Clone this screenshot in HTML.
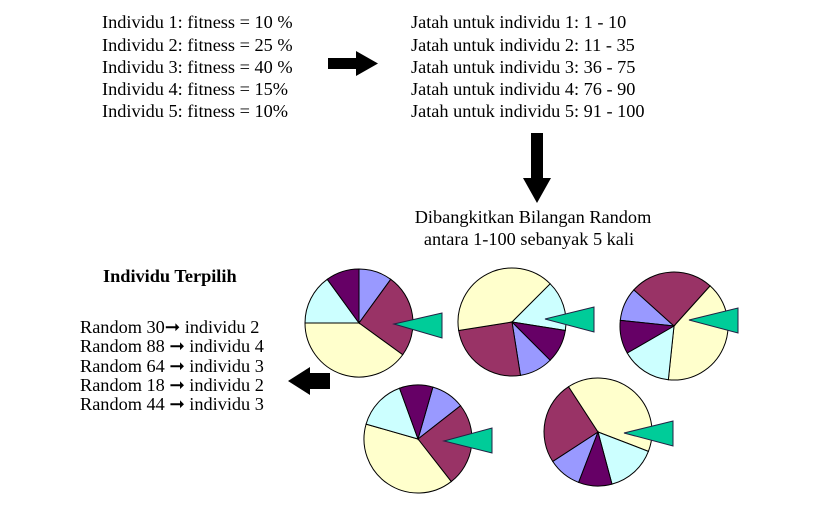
<!DOCTYPE html>
<html><head><meta charset="utf-8"><style>
body{margin:0;background:#fff}
svg text{font-family:"Liberation Serif",serif;font-size:18.3px;fill:#000}
</style></head><body>
<svg id="s" width="819" height="518" viewBox="0 0 819 518">
<g>
<text x="102" y="28">Individu 1: fitness = 10 %</text>
<text x="102" y="51">Individu 2: fitness = 25 %</text>
<text x="102" y="73">Individu 3: fitness = 40 %</text>
<text x="102" y="95">Individu 4: fitness = 15%</text>
<text x="102" y="117">Individu 5: fitness = 10%</text>
</g>
<g>
<text x="411" y="28">Jatah untuk individu 1: 1 - 10</text>
<text x="411" y="51">Jatah untuk individu 2: 11 - 35</text>
<text x="411" y="73">Jatah untuk individu 3: 36 - 75</text>
<text x="411" y="95">Jatah untuk individu 4: 76 - 90</text>
<text x="411" y="117">Jatah untuk individu 5: 91 - 100</text>
</g>
<polygon points="328,58 356,58 356,51 378,63.5 356,76 356,69 328,69" fill="#000"/>
<polygon points="531,133 543,133 543,178 551,178 537,203 523,178 531,178" fill="#000"/>
<polygon points="330,373 310,373 310,367 288,381 310,395 310,389 330,389" fill="#000"/>
<text x="533" y="223" text-anchor="middle">Dibangkitkan Bilangan Random</text>
<text x="529" y="245" text-anchor="middle">antara 1-100 sebanyak 5 kali</text>
<text x="103" y="282" font-weight="bold">Individu Terpilih</text>
<g>
<text x="80" y="333">Random 30➞ individu 2</text>
<text x="80" y="352">Random 88 ➞ individu 4</text>
<text x="80" y="372">Random 64 ➞ individu 3</text>
<text x="80" y="391">Random 18 ➞ individu 2</text>
<text x="80" y="410">Random 44 ➞ individu 3</text>
</g>
<g id="pies"></g>
</svg>
<script>
const fitness=[10,25,40,15,10];
const colors=["#9999ff","#993366","#ffffcc","#ccffff","#660066"];
const startAngles=[0,135,-84,16,201];
const pieCenters=[[359,323],[512,322],[674,326],[418,439],[598,432]];
const pointers=[[394,324,442,313,338],[545,319,594,307,332],[689,320,738,308,333],[444,441,492,428,453],[624,433,673,421,446]];
const R=54, NS="http://www.w3.org/2000/svg", g=document.getElementById('pies');
const total=fitness.reduce((a,b)=>a+b,0);
function pt(cx,cy,a){const r=(a-90)*Math.PI/180;return [cx+R*Math.cos(r),cy+R*Math.sin(r)];}
pieCenters.forEach((c,p)=>{
  const pg=document.createElementNS(NS,'g');
  
  
  let a=startAngles[p];
  fitness.forEach((v,i)=>{
    const sweep=v/total*360, a2=a+sweep;
    const [x1,y1]=pt(c[0],c[1],a),[x2,y2]=pt(c[0],c[1],a2);
    const path=document.createElementNS(NS,'path');
    path.setAttribute('d',`M${c[0]},${c[1]} L${x1},${y1} A${R},${R} 0 ${sweep>180?1:0} 1 ${x2},${y2} Z`);
    path.setAttribute('fill',colors[i]);path.setAttribute('stroke','#000');path.setAttribute('stroke-width','1');
    
    
    pg.appendChild(path);a=a2;
  });
  const q=pointers[p],tri=document.createElementNS(NS,'polygon');
  tri.setAttribute('points',`${q[0]},${q[1]} ${q[2]},${q[3]} ${q[2]},${q[4]}`);
  tri.setAttribute('fill','#00cc99');tri.setAttribute('stroke','#224');tri.setAttribute('stroke-width','1');
  
  
  pg.appendChild(tri);
  g.appendChild(pg);
});
</script>
</body></html>
